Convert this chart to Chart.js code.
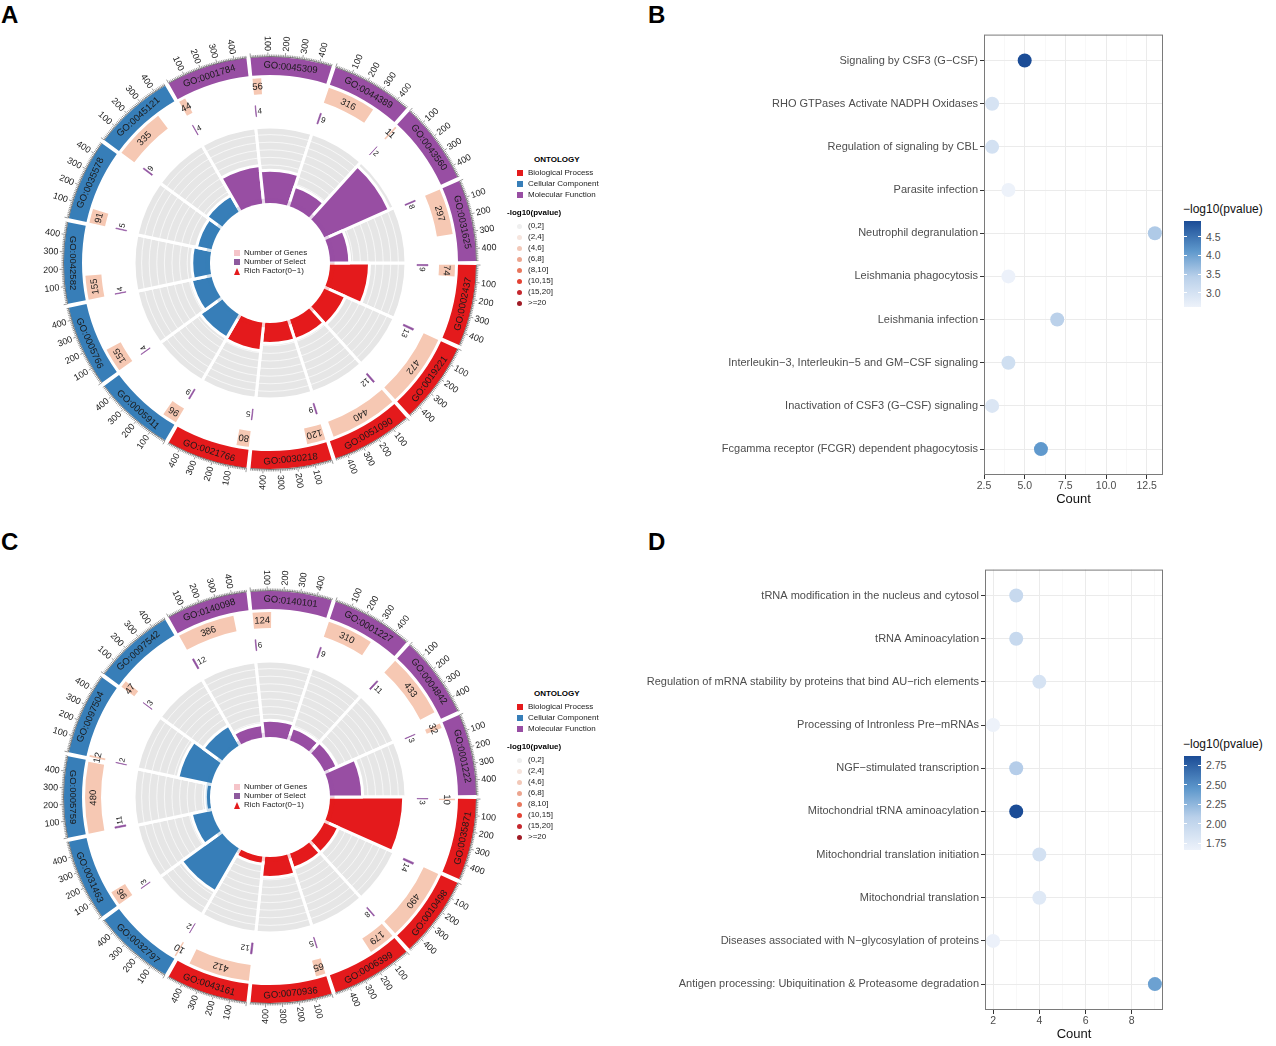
<!DOCTYPE html>
<html>
<head>
<meta charset="utf-8">
<script src="https://cdn.jsdelivr.net/npm/chart.js@4.4.1/dist/chart.umd.min.js"></script>
<style>
html,body{margin:0;padding:0;background:#fff;}
body{width:1276px;height:1046px;position:relative;overflow:hidden;font-family:"Liberation Sans",Arial,Helvetica,sans-serif;color:#000;}
.box{position:absolute;}
.letter{position:absolute;font-weight:bold;font-size:24px;line-height:24px;}
.txt{position:absolute;white-space:nowrap;}
</style>
</head>
<body>
<script>
// ---------------- DATA ----------------
// Panel A (GO circle)
const goA = ['GO:0002437','GO:0019221','GO:0051090','GO:0030218','GO:0021766','GO:0005911','GO:0005766','GO:0042582','GO:0035578','GO:0045121','GO:0001784','GO:0045309','GO:0044389','GO:0043560','GO:0031625'];
const ontA = ['BP','BP','BP','BP','BP','CC','CC','CC','CC','CC','MF','MF','MF','MF','MF'];
const genesA = [74,472,440,120,80,96,155,155,91,335,44,56,316,11,297];
const selectA = [9,13,12,9,5,9,4,4,5,9,4,4,9,2,8];
const richA = [0.52,0.30,0.27,0.27,0.37,0.35,0.27,0.24,0.20,0.24,0.50,0.43,0.27,0.93,0.26];
// Panel C (GO circle)
const goC = ['GO:0035871','GO:0010498','GO:0006399','GO:0070936','GO:0043161','GO:0032797','GO:0031463','GO:0005759','GO:0097504','GO:0097542','GO:0140098','GO:0140101','GO:0001227','GO:0004842','GO:0001222'];
const ontC = ['BP','BP','BP','BP','BP','CC','CC','CC','CC','CC','MF','MF','MF','MF','MF'];
const genesC = [10,490,179,65,412,10,96,480,12,47,386,124,310,433,32];
const selectC = [3,14,8,5,12,2,3,11,2,3,12,6,9,11,3];
const richC = [0.97,0.20,0.20,0.27,0.10,0.65,0.27,0.06,0.45,0.30,0.17,0.22,0.17,0.18,0.43];
const axisLabels = [100,200,300,400];
// Legends of the circles
const ontologyKeys = ['BP','CC','MF'];
const ontologyNames = ['Biological Process','Cellular Component','Molecular Function'];
const binLabels = ['(0,2]','(2,4]','(4,6]','(6,8]','(8,10]','(10,15]','(15,20]','>=20'];
const centerLegend = ['Number of Genes','Number of Select','Rich Factor(0\u22121)'];
// Panel B (dot plot)
const termsB = ['Signaling by CSF3 (G\u2212CSF)','RHO GTPases Activate NADPH Oxidases','Regulation of signaling by CBL','Parasite infection','Neutrophil degranulation','Leishmania phagocytosis','Leishmania infection','Interleukin\u22123, Interleukin\u22125 and GM\u2212CSF signaling','Inactivation of CSF3 (G\u2212CSF) signaling','Fcgamma receptor (FCGR) dependent phagocytosis'];
const countB = [5,3,3,4,13,4,7,4,3,6];
const logpB = [4.92,2.97,3.03,2.62,3.50,2.64,3.40,3.08,2.90,4.10];
const xMajorB = [2.5,5,7.5,10,12.5];
const xMinorB = [3.75,6.25,8.75,11.25];
const cbTicksB = [3.0,3.5,4.0,4.5];
// Panel D (dot plot)
const termsD = ['tRNA modification in the nucleus and cytosol','tRNA Aminoacylation','Regulation of mRNA stability by proteins that bind AU\u2212rich elements','Processing of Intronless Pre\u2212mRNAs','NGF\u2212stimulated transcription','Mitochondrial tRNA aminoacylation','Mitochondrial translation initiation','Mitochondrial translation','Diseases associated with N\u2212glycosylation of proteins','Antigen processing: Ubiquitination & Proteasome degradation'];
const countD = [3,3,4,2,3,3,4,4,2,9];
const logpD = [1.97,1.97,1.85,1.66,2.10,2.87,1.87,1.77,1.67,2.39];
const xMajorD = [2,4,6,8];
const xMinorD = [3,5,7,9];
const cbTicksD = [1.75,2.00,2.25,2.50,2.75];

// ---------------- STYLE ----------------
const FONT = '"Liberation Sans", Arial, Helvetica, sans-serif';
Chart.defaults.font.family = FONT;
const ONT_COL = {BP:'#e41a1c', CC:'#377eb8', MF:'#984ea3'};
const ONT_TINT = {BP:'rgba(228,26,28,0.22)', CC:'rgba(55,126,184,0.22)', MF:'rgba(152,78,163,0.22)'};
const GENE_COL = '#f6c8b3';
const SEL_COL = '#8e4f9e';
const BIN_COL = ['#efefef','#f6e5de','#f2c8b8','#eca58f','#e8775d','#e34234','#c5272d','#a01b26'];
const GREY = '#e6e6e6';
const T = 'rgba(0,0,0,0)';
const CX = 270;

function el(tag, cls, styles, text){
  const e = document.createElement(tag);
  if (cls) e.className = cls;
  Object.assign(e.style, styles || {});
  if (text !== undefined) e.textContent = text;
  document.body.appendChild(e);
  return e;
}

// ---------------- CIRCLE PANELS ----------------
function drawCircle(cy, go, ont, genes, select, rich, xmax){
  const gap = xmax * 0.05;
  const goRing=[], goCol=[], gRing=[], gCol=[], sRing=[], sCol=[];
  for (let i=0;i<go.length;i++){
    goRing.push(gap/2, xmax, gap/2); goCol.push(T, ONT_COL[ont[i]], T);
    gRing.push(gap/2, genes[i], xmax-genes[i], gap/2); gCol.push(T, GENE_COL, T, T);
    sRing.push(gap/2, select[i], xmax-select[i], gap/2); sCol.push(T, SEL_COL, T, T);
  }
  const wrap = el('div','box',{left:(CX-250)+'px', top:(cy-250)+'px', width:'500px', height:'500px'});
  const can = document.createElement('canvas'); wrap.appendChild(can);

  const textPlugin = {id:'ctext', afterDraw(chart){
    const ctx = chart.ctx;
    const m0 = chart.getDatasetMeta(0).data, m2 = chart.getDatasetMeta(2).data, m4 = chart.getDatasetMeta(4).data;
    ctx.save();
    ctx.fillStyle = '#1a1a1a'; ctx.textBaseline = 'middle';
    for (let i=0;i<go.length;i++){
      const a = m0[i*3+1];
      const x=a.x, y=a.y, s=a.startAngle, e=a.endAngle, ir=a.innerRadius, or=a.outerRadius;
      // GO id label
      const mid=(s+e)/2, rm=(ir+or)/2;
      ctx.save();
      ctx.translate(x+rm*Math.cos(mid), y+rm*Math.sin(mid));
      ctx.rotate(Math.sin(mid)>0 ? mid-Math.PI/2 : mid+Math.PI/2);
      ctx.font = '9.5px '+FONT; ctx.textAlign='center';
      ctx.fillText(go[i],0,0.5);
      ctx.restore();
      // axis
      ctx.strokeStyle='#333';
      ctx.lineWidth=0.6;
      ctx.beginPath(); ctx.arc(x,y,or+0.5,s,e); ctx.stroke();
      ctx.lineWidth=0.5;
      for (let v=0; v<=xmax; v+=10){
        const t=s+(e-s)*v/xmax, len=(v%100===0)?4:2;
        ctx.beginPath();
        ctx.moveTo(x+(or+0.5)*Math.cos(t), y+(or+0.5)*Math.sin(t));
        ctx.lineTo(x+(or+0.5+len)*Math.cos(t), y+(or+0.5+len)*Math.sin(t));
        ctx.stroke();
      }
      ctx.font='9px '+FONT;
      for (const v of axisLabels){
        if (v>xmax) continue;
        const t=s+(e-s)*v/xmax, r=or+6;
        ctx.save();
        ctx.translate(x+r*Math.cos(t), y+r*Math.sin(t));
        if (Math.cos(t)>=0){ ctx.rotate(t); ctx.textAlign='left'; }
        else { ctx.rotate(t+Math.PI); ctx.textAlign='right'; }
        ctx.fillText(String(v),0,0.5);
        ctx.restore();
      }
      // gene count label
      const b=m2[i*4+1];
      const bm=(b.startAngle+b.endAngle)/2, br=(b.innerRadius+b.outerRadius)/2;
      ctx.save();
      ctx.translate(x+br*Math.cos(bm), y+br*Math.sin(bm));
      ctx.rotate(bm+Math.PI/2);
      ctx.font='9.5px '+FONT; ctx.textAlign='center';
      ctx.fillText(String(genes[i]),0,0.5);
      ctx.restore();
      // select label
      const c=m4[i*4+1];
      const cr=(c.innerRadius+c.outerRadius)/2, ct=c.endAngle+1.5/cr;
      ctx.save();
      ctx.translate(x+cr*Math.cos(ct), y+cr*Math.sin(ct));
      ctx.rotate(ct+Math.PI/2);
      ctx.font='8px '+FONT; ctx.textAlign='left';
      ctx.fillText(String(select[i]),0,0.5);
      ctx.restore();
    }
    ctx.restore();
  }};

  new Chart(can, {
    type:'doughnut',
    data:{datasets:[
      {data:goRing, backgroundColor:goCol, borderWidth:0, weight:18},
      {data:[1], backgroundColor:[T], borderWidth:0, weight:3},
      {data:gRing, backgroundColor:gCol, borderWidth:0, weight:16},
      {data:[1], backgroundColor:[T], borderWidth:0, weight:11},
      {data:sRing, backgroundColor:sCol, borderColor:sCol, borderWidth:0.6, weight:11}
    ]},
    options:{responsive:true, maintainAspectRatio:false, animation:false, events:[],
      radius:206, cutout:(147/206*100)+'%', rotation:90,
      layout:{padding:0},
      plugins:{legend:{display:false}, tooltip:{enabled:false}}},
    plugins:[textPlugin]
  });

  // inner rich-factor track
  const pw = el('div','box',{left:(CX-136)+'px', top:(cy-136)+'px', width:'272px', height:'272px'});
  const pc = document.createElement('canvas'); pw.appendChild(pc);
  const gridVals = [0.1,0.2,0.3,0.4,0.5,0.6,0.7,0.8,0.9];
  const polarPlugin = {id:'pgrid',
    afterDatasetDraw(chart,args){
      if (args.index!==2) return;
      const s=chart.scales.r, ctx=chart.ctx;
      ctx.save(); ctx.strokeStyle='rgba(255,255,255,0.85)'; ctx.lineWidth=0.8;
      for (const v of gridVals){ ctx.beginPath(); ctx.arc(s.xCenter,s.yCenter,s.getDistanceFromCenterForValue(v),0,Math.PI*2); ctx.stroke(); }
      ctx.restore();
    },
    afterDatasetsDraw(chart){
      const s=chart.scales.r, ctx=chart.ctx;
      ctx.save(); ctx.fillStyle='#fff'; ctx.beginPath();
      ctx.arc(s.xCenter,s.yCenter,s.getDistanceFromCenterForValue(0),0,Math.PI*2); ctx.fill(); ctx.restore();
    }
  };
  new Chart(pc, {
    type:'polarArea',
    data:{labels:go, datasets:[
      {data:go.map(()=>0.06), backgroundColor:ont.map(o=>ONT_TINT[o]), borderWidth:0},
      {data:rich, backgroundColor:ont.map(o=>ONT_COL[o]), borderColor:'#fff', borderWidth:3},
      {data:go.map(()=>1), backgroundColor:GREY, borderColor:'#fff', borderWidth:3}
    ]},
    options:{responsive:true, maintainAspectRatio:false, animation:false, events:[],
      layout:{padding:0},
      scales:{r:{display:false, min:-0.79, max:1, startAngle:90}},
      plugins:{legend:{display:false}, tooltip:{enabled:false}}},
    plugins:[polarPlugin]
  });

  // centre legend
  const cl = cy - 10;
  const sw = [['sq','#f5c4c9'],['sq','#8e5a9e'],['tri','#e41a1c']];
  centerLegend.forEach((t,k)=>{
    const yy = cl + k*9;
    if (sw[k][0]==='sq') el('div','box',{left:'234px', top:(yy-3)+'px', width:'6px', height:'6px', background:sw[k][1]});
    else el('div','box',{left:'234px', top:(yy-3.5)+'px', width:'0', height:'0', borderLeft:'3.5px solid transparent', borderRight:'3.5px solid transparent', borderBottom:'7px solid '+sw[k][1]});
    el('div','txt',{left:'244px', top:(yy-5)+'px', fontSize:'8px', lineHeight:'10px', color:'#222'}, t);
  });

  // right legend
  const ly = cy - 103;
  el('div','txt',{left:'534px', top:(ly-5)+'px', fontSize:'8px', lineHeight:'10px', fontWeight:'bold'}, 'ONTOLOGY');
  ontologyKeys.forEach((k,j)=>{
    const yy = ly + 13 + j*11;
    el('div','box',{left:'517px', top:(yy-3)+'px', width:'6px', height:'6px', background:ONT_COL[k]});
    el('div','txt',{left:'528px', top:(yy-5)+'px', fontSize:'8px', lineHeight:'10px', color:'#222'}, ontologyNames[j]);
  });
  el('div','txt',{left:'507px', top:(ly+48)+'px', fontSize:'8px', lineHeight:'10px', fontWeight:'bold'}, '-log10(pvalue)');
  binLabels.forEach((b,j)=>{
    const yy = ly + 66 + j*11;
    el('div','box',{left:'517px', top:(yy-2.5)+'px', width:'5px', height:'5px', borderRadius:'50%', background:BIN_COL[j]});
    el('div','txt',{left:'528px', top:(yy-5)+'px', fontSize:'8px', lineHeight:'10px', color:'#222'}, b);
  });
}

// ---------------- DOT PLOTS ----------------
const BLUE_STOPS = [[0,[237,242,250]],[0.35,[185,208,234]],[0.65,[94,152,204]],[1,[27,76,150]]];
function blue(t){
  t=Math.max(0,Math.min(1,t));
  for (let k=1;k<BLUE_STOPS.length;k++){
    if (t<=BLUE_STOPS[k][0]){
      const [t0,c0]=BLUE_STOPS[k-1], [t1,c1]=BLUE_STOPS[k];
      const f=(t-t0)/(t1-t0);
      return 'rgb('+c0.map((c,j)=>Math.round(c+(c1[j]-c)*f)).join(',')+')';
    }
  }
  return 'rgb('+BLUE_STOPS[BLUE_STOPS.length-1][1].join(',')+')';
}

function dotPlot(top, terms, counts, logp, xMajor, xMinor, xmin, xmax, yAxisW, dec, cbTicks, cbDec, cbTop, cbH){
  const pmin=Math.min(...logp), pmax=Math.max(...logp);
  const wrap = el('div','box',{left:'640px', top:(top-4)+'px', width:'530px', height:'483px'});
  const can = document.createElement('canvas'); wrap.appendChild(can);
  const majorSet = new Set(xMajor);
  const frame = {id:'frame', afterDraw(chart){
    const a=chart.chartArea, ctx=chart.ctx;
    ctx.save(); ctx.strokeStyle='#7a7a7a'; ctx.lineWidth=1;
    ctx.strokeRect(a.left+0.5,a.top+0.5,a.right-a.left-1,a.bottom-a.top-1); ctx.restore();
  }};
  new Chart(can, {
    type:'scatter',
    data:{datasets:[{data:counts.map((c,i)=>({x:c,y:i+1})),
      backgroundColor:logp.map(v=>blue((v-pmin)/(pmax-pmin))),
      pointRadius:7, pointHoverRadius:7, pointBorderWidth:0}]},
    options:{responsive:true, maintainAspectRatio:false, animation:false, events:[],
      layout:{padding:{top:5,right:4,left:0,bottom:0}},
      plugins:{legend:{display:false}, tooltip:{enabled:false}},
      scales:{
        x:{type:'linear', min:xmin, max:xmax,
          afterBuildTicks:s=>{ s.ticks=[...xMajor,...xMinor].sort((a,b)=>a-b).map(v=>({value:v})); },
          afterFit:s=>{ s.height=34; },
          ticks:{autoSkip:false, maxRotation:0, color:'#4d4d4d', font:{size:10.5}, padding:1,
            callback:v=> majorSet.has(v) ? v.toFixed(dec) : ''},
          grid:{color:c=> (c.tick && majorSet.has(c.tick.value)) ? '#ebebeb' : '#f4f4f4',
            lineWidth:c=> (c.tick && majorSet.has(c.tick.value)) ? 1 : 0.6,
            tickColor:c=> (c.tick && majorSet.has(c.tick.value)) ? '#333' : 'rgba(0,0,0,0)',
            tickLength:4, drawTicks:true},
          border:{display:false},
          title:{display:true, text:'Count', color:'#111', font:{size:13}, padding:{top:0,bottom:2}}
        },
        y:{type:'linear', reverse:true, min:0.4, max:terms.length+0.6,
          afterBuildTicks:s=>{ s.ticks=terms.map((t,i)=>({value:i+1})); },
          afterFit:s=>{ s.width=yAxisW; },
          ticks:{autoSkip:false, color:'#4d4d4d', font:{size:11}, padding:2,
            callback:v=> terms[Math.round(v)-1]},
          grid:{color:'#ebebeb', lineWidth:1, tickColor:'#333', tickLength:4},
          border:{display:false}
        }
      }},
    plugins:[frame]
  });
  // colour bar legend
  el('div','txt',{left:'1183px', top:(cbTop-19)+'px', fontSize:'12px', lineHeight:'14px', color:'#111'}, '\u2212log10(pvalue)');
  const grad = 'linear-gradient(to top,'+BLUE_STOPS.map(s=>'rgb('+s[1].join(',')+') '+(s[0]*100)+'%').join(',')+')';
  el('div','box',{left:'1184px', top:cbTop+'px', width:'17px', height:cbH+'px', background:grad});
  cbTicks.forEach(v=>{
    const yy = cbTop + cbH - (v-pmin)/(pmax-pmin)*cbH;
    el('div','box',{left:'1184px', top:(yy-0.5)+'px', width:'3px', height:'1px', background:'#fff'});
    el('div','box',{left:'1198px', top:(yy-0.5)+'px', width:'3px', height:'1px', background:'#fff'});
    el('div','txt',{left:'1206px', top:(yy-6)+'px', fontSize:'10.5px', lineHeight:'12px', color:'#4d4d4d'}, v.toFixed(cbDec));
  });
}

// ---------------- BUILD ----------------
el('div','letter',{left:'1px', top:'3px'},'A');
el('div','letter',{left:'648px', top:'3px'},'B');
el('div','letter',{left:'1px', top:'530px'},'C');
el('div','letter',{left:'648px', top:'530px'},'D');

drawCircle(263, goA, ontA, genesA, selectA, richA, Math.max(...genesA));
drawCircle(797, goC, ontC, genesC, selectC, richC, Math.max(...genesC));
dotPlot(30, termsB, countB, logpB, xMajorB, xMinorB, 2.5, 13.5, 344, 1, cbTicksB, 1, 221, 86);
dotPlot(565, termsD, countD, logpD, xMajorD, xMinorD, 1.65, 9.35, 345, 0, cbTicksD, 2, 756, 94);
</script>
</body>
</html>
